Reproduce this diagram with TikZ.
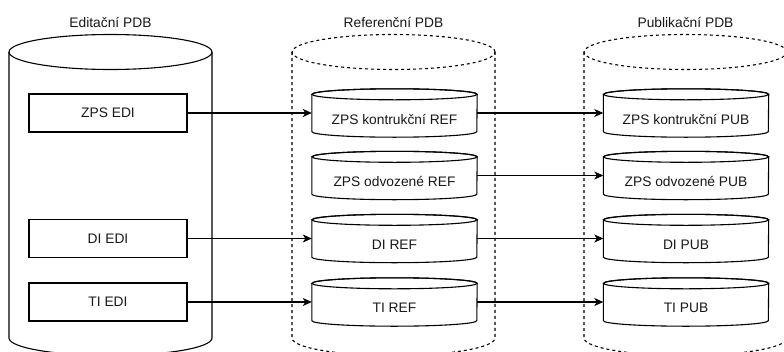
\documentclass[tikz,border=0pt]{standalone}
\usepackage{fontspec}
\setmainfont{Liberation Sans}
\usetikzlibrary{arrows.meta}

% outline of a small database cylinder drawn round an (empty) node
\newcommand{\dbcyl}[1]{%
  \draw[shapeline,fill=white] ([yshift=-5.5pt]#1.north west) -- ([yshift=5.5pt]#1.south west)
    arc[start angle=180,end angle=360,x radius=82.5pt,y radius=5.5pt]
    -- ([yshift=-5.5pt]#1.north east)
    arc[start angle=0,end angle=180,x radius=82.5pt,y radius=5.5pt] -- cycle;
  \draw[shapeline] ([yshift=-5.5pt]#1.north) ellipse[x radius=82.5pt,y radius=5.5pt];}

\begin{document}
\begin{tikzpicture}[x=1pt,y=1pt,
  shapeline/.style={line width=1.1pt,draw=black},
  storage/.style={line width=1.1pt,draw=black},
  dashedstorage/.style={storage,dash pattern=on 3pt off 3pt},
  lbl/.style={font=\fontsize{13.8}{16}\selectfont,text=black!90,inner sep=0pt},
  edibox/.style={shapeline,draw,fill=white,minimum width=158pt,minimum height=38pt,inner sep=0pt,lbl},
  cylbody/.style={minimum width=165pt,minimum height=48pt,inner sep=0pt},
  conn/.style={line width=1.1pt,-{Stealth[length=9pt,width=8pt,inset=2.5pt]}}]

\useasboundingbox (0,0) rectangle (784,-351);
\fill[white] (0,0) rectangle (784,-351);
\clip (0,0) rectangle (784,-351);

% three large storage cylinders
\foreach \cx/\st in {110.5/storage,393.5/dashedstorage,685.5/dashedstorage}{
  \draw[\st] (\cx-101.5,-52) -- (\cx-101.5,-338)
    arc[start angle=180,end angle=360,x radius=101.5,y radius=17.5]
    -- (\cx+101.5,-52);
  \draw[\st] (\cx,-52) ellipse[x radius=101.5,y radius=17.5];
}

% titles
\node[lbl] (tedi) at (110.5,-22) {Editační PDB};
\node[lbl] (tref) at (393.5,-22) {Referenční PDB};
\node[lbl] (tpub) at (685.5,-22) {Publikační PDB};

% editing layer
\node[edibox] (zedi) at (108,-113) {ZPS EDI};
\node[edibox] (diedi) at (108,-238.5) {DI EDI};
\node[edibox] (tiedi) at (108,-302) {TI EDI};

% reference layer
\node[cylbody] (zkref) at (394.5,-113) {};
\node[cylbody] (zoref) at (394.5,-175.5) {};
\node[cylbody] (diref) at (394.5,-238.5) {};
\node[cylbody] (tiref) at (394.5,-302) {};

% publication layer
\node[cylbody] (zkpub) at (686,-113) {};
\node[cylbody] (zopub) at (686,-175.5) {};
\node[cylbody] (dipub) at (686,-238.5) {};
\node[cylbody] (tipub) at (686,-302) {};

\foreach \n in {zkref,zoref,diref,tiref,zkpub,zopub,dipub,tipub}{\dbcyl{\n}}

\node[lbl] (zkreft) at ([yshift=-6pt]zkref.center) {ZPS kontrukční REF};
\node[lbl] (zoreft) at ([yshift=-6pt]zoref.center) {ZPS odvozené REF};
\node[lbl] (direft) at ([yshift=-6pt]diref.center) {DI REF};
\node[lbl] (tireft) at ([yshift=-6pt]tiref.center) {TI REF};
\node[lbl] (zkpubt) at ([yshift=-6pt]zkpub.center) {ZPS kontrukční PUB};
\node[lbl] (zopubt) at ([yshift=-6pt]zopub.center) {ZPS odvozené PUB};
\node[lbl] (dipubt) at ([yshift=-6pt]dipub.center) {DI PUB};
\node[lbl] (tipubt) at ([yshift=-6pt]tipub.center) {TI PUB};

% data flows
\draw[conn] (zedi.east) -- (zkref.west);
\draw[conn] (diedi.east) -- (diref.west);
\draw[conn] (tiedi.east) -- (tiref.west);
\draw[conn] (zkref.east) -- (zkpub.west);
\draw[conn] (zoref.east) -- (zopub.west);
\draw[conn] (diref.east) -- (dipub.west);
\draw[conn] (tiref.east) -- (tipub.west);
\end{tikzpicture}
\end{document}
